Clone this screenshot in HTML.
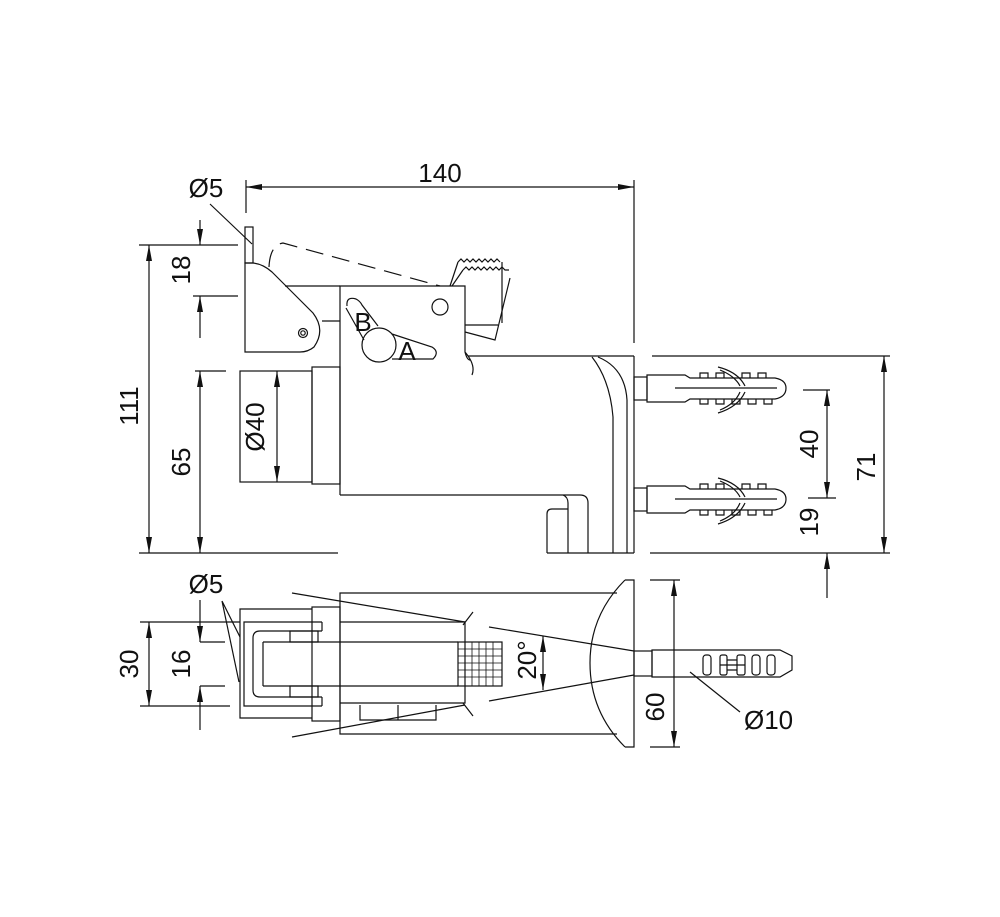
<!DOCTYPE html>
<html><head><meta charset="utf-8"><style>
html,body{margin:0;padding:0;background:#fff}
svg{display:block}
text{font-family:"Liberation Sans",sans-serif;font-size:26px;fill:#111}
</style></head><body>
<svg width="1000" height="917" viewBox="0 0 1000 917" xmlns="http://www.w3.org/2000/svg">
<defs>
<marker id="a" viewBox="0 0 16 6" refX="16" refY="3" markerWidth="16" markerHeight="6" orient="auto-start-reverse" markerUnits="userSpaceOnUse"><path d="M0,0 L16,3 L0,6 Z" fill="#111"/></marker>
</defs>
<g fill="none" stroke="#111" stroke-width="1.2">
<line x1="246" y1="187" x2="634" y2="187" marker-start="url(#a)" marker-end="url(#a)"/>
<line x1="246" y1="180" x2="246" y2="213"/>
<line x1="634" y1="180" x2="634" y2="343"/>
<line x1="210" y1="204" x2="252" y2="244"/>
<rect x="245" y="227" width="8" height="36"/>
<path d="M245,263 L253,263 Q263,264 272,272 L313,313 Q326,330 314,347 Q308,352 300,352 L245,352 Z"/>
<circle cx="303" cy="333" r="4.5"/><circle cx="303" cy="333" r="2.2"/>
<line x1="285" y1="286" x2="340" y2="286"/>
<line x1="322" y1="321" x2="340" y2="321"/>
<path d="M269,267 Q270,245 283,243 L440,286" stroke-dasharray="18,9"/>
<path d="M450,286 L458,262"/>
<path d="M458,262 l3,-3 l3,3 l3,-3 l3,3 l3,-3 l3,3 l3,-3 l3,3 l3,-3 l3,3 l3,-3 l3,3 l3,-3 l3,3"/>
<path d="M502,262 L502,323"/>
<path d="M463,270 L452,286"/>
<path d="M463,270 l3,-3 l3,3 l3,-3 l3,3 l3,-3 l3,3 l3,-3 l3,3 l3,-3 l3,3 l3,-3 l3,3 l3,-3 l3,3 l4,0"/>
<path d="M510,278 L495,340 L465,332"/>
<line x1="465" y1="325" x2="498" y2="325"/>
<path d="M340,495 L340,286 L465,286 L465,352 Q467,360 470,360 M465,352 Q476,365 472,375"/>
<path d="M468,356 L634,356"/>
<path d="M340,495 L580,495 Q588,495 588,503 L588,553"/>
<path d="M563,495 Q568,497 568,503 L568,553"/>
<path d="M547,553 L547,514 Q547,509 552,509 L568,509"/>
<line x1="547" y1="553" x2="634" y2="553"/>
<line x1="613" y1="417" x2="613" y2="553"/>
<line x1="627" y1="400" x2="627" y2="553"/>
<line x1="634" y1="356" x2="634" y2="553"/>
<path d="M592,357 Q610,380 613,417"/>
<path d="M598,357 Q625,368 627,400"/>
<circle cx="440" cy="307" r="8"/>
<path d="M347,306 Q346,296 356,299 Q360,301 362,305 L378,326"/>
<path d="M346,308 L364,340"/>
<circle cx="379" cy="345" r="17"/>
<path d="M392,334 L432,347 Q440,352 433,359 L392,359"/>
<rect x="240" y="371" width="72" height="111"/>
<rect x="312" y="367" width="28" height="117"/>
<line x1="277" y1="371" x2="277" y2="482" marker-start="url(#a)" marker-end="url(#a)"/>
<line x1="149" y1="245" x2="149" y2="553" marker-start="url(#a)" marker-end="url(#a)"/>
<line x1="139" y1="245" x2="238" y2="245"/>
<line x1="139" y1="553" x2="338" y2="553"/>
<line x1="200" y1="220" x2="200" y2="245" marker-end="url(#a)"/>
<line x1="200" y1="296" x2="200" y2="338" marker-start="url(#a)"/>
<line x1="193" y1="296" x2="238" y2="296"/>
<line x1="200" y1="371" x2="200" y2="553" marker-start="url(#a)" marker-end="url(#a)"/>
<line x1="195" y1="371" x2="226" y2="371"/>
<g id="anc">
<rect x="634" y="377" width="13" height="23"/>
<path d="M647,375 L685,375 L690,378 L775,378 Q786,380 786,388 Q786,397 775,399 L690,399 L685,402 L647,402 Z"/>
<line x1="675" y1="388" x2="777" y2="388"/>
<path d="M700,378 l0,-5 l8,0 l0,5 M716,378 l0,-5 l8,0 l0,5 M742,378 l0,-5 l8,0 l0,5 M758,378 l0,-5 l8,0 l0,5"/>
<path d="M700,399 l0,5 l8,0 l0,-5 M716,399 l0,5 l8,0 l0,-5 M732,399 l0,5 l8,0 l0,-5 M748,399 l0,5 l8,0 l0,-5 M764,399 l0,5 l8,0 l0,-5"/>
<path d="M718,367 Q738,372 745,386 M720,370 Q735,376 740,386"/>
<path d="M718,413 Q738,407 745,392 M720,410 Q735,404 740,392"/>
</g>
<use href="#anc" transform="translate(0,111)"/>
<line x1="652" y1="356" x2="890" y2="356"/>
<line x1="650" y1="553" x2="890" y2="553"/>
<line x1="884" y1="356" x2="884" y2="553" marker-start="url(#a)" marker-end="url(#a)"/>
<line x1="803" y1="390" x2="830" y2="390"/>
<line x1="827" y1="390" x2="827" y2="498" marker-start="url(#a)" marker-end="url(#a)"/>
<line x1="808" y1="498" x2="836" y2="498"/>
<line x1="827" y1="553" x2="827" y2="598" marker-start="url(#a)"/>
<path d="M617,593 L340,593 L340,734 L617,734"/>
<path d="M625,580 L634,580 L634,747 L625,747"/>
<path d="M625,580 Q590,615 590,663 Q590,712 625,747"/>
<path d="M340,622 L465,622 L465,703 L340,703"/>
<path d="M263,642 L458,642 M263,686 L458,686 M263,642 L263,686"/>
<rect x="458" y="642" width="44" height="44"/>
<path d="M458,649 H502 M458,656 H502 M458,663 H502 M458,670 H502 M458,677 H502 M465,642 V686 M472,642 V686 M479,642 V686 M486,642 V686 M493,642 V686" stroke-width="0.8"/>
<path d="M360,705 L360,720 L436,720 L436,705 M398,705 L398,720"/>
<line x1="292" y1="593" x2="465" y2="622"/>
<line x1="292" y1="737" x2="465" y2="705"/>
<path d="M463,625 L473,612 M463,703 L473,716"/>
<line x1="489" y1="627" x2="634" y2="651"/>
<line x1="489" y1="701" x2="634" y2="675"/>
<line x1="543" y1="636" x2="543" y2="690" marker-start="url(#a)" marker-end="url(#a)"/>
<rect x="312" y="607" width="28" height="114"/>
<path d="M312,609 L240,609 L240,718 L312,718"/>
<path d="M322,622 L244,622 L244,706 L322,706 M322,622 L322,631 M322,697 L322,706"/>
<path d="M322,631 L260,631 Q253,631 253,638 L253,690 Q253,697 260,697 L322,697"/>
<rect x="290" y="631" width="28" height="11"/>
<rect x="290" y="686" width="28" height="11"/>
<path d="M222,601 L240,637 M222,601 L239,682"/>
<rect x="634" y="651" width="18" height="25"/>
<path d="M652,650 L780,650 L792,656 L792,670 L780,677 L652,677 Z"/>
<rect x="703" y="655" width="8" height="20" rx="3"/>
<rect x="720" y="655" width="7" height="20" rx="2"/>
<rect x="737" y="655" width="8" height="20" rx="2"/>
<path d="M720,665 L745,665 M727,660 L737,660 M727,670 L737,670"/>
<rect x="752" y="655" width="8" height="20" rx="3"/>
<rect x="767" y="655" width="8" height="20" rx="3"/>
<line x1="690" y1="672" x2="740" y2="712"/>
<line x1="650" y1="580" x2="680" y2="580"/>
<line x1="650" y1="747" x2="680" y2="747"/>
<line x1="674" y1="580" x2="674" y2="747" marker-start="url(#a)" marker-end="url(#a)"/>
<line x1="140" y1="622" x2="240" y2="622"/>
<line x1="140" y1="706" x2="230" y2="706"/>
<line x1="149" y1="622" x2="149" y2="706" marker-start="url(#a)" marker-end="url(#a)"/>
<line x1="200" y1="642" x2="225" y2="642"/>
<line x1="200" y1="686" x2="225" y2="686"/>
<line x1="200" y1="600" x2="200" y2="642" marker-end="url(#a)"/>
<line x1="200" y1="686" x2="200" y2="730" marker-start="url(#a)"/>
</g>
<text x="440" y="182" text-anchor="middle">140</text>
<text x="206" y="197" text-anchor="middle">Ø5</text>
<text x="363" y="331" text-anchor="middle" font-size="23">B</text>
<text x="407" y="360" text-anchor="middle" font-size="23">A</text>
<text transform="translate(264,427) rotate(-90)" text-anchor="middle">Ø40</text>
<text transform="translate(138,406) rotate(-90)" text-anchor="middle">111</text>
<text transform="translate(190,270) rotate(-90)" text-anchor="middle">18</text>
<text transform="translate(190,462) rotate(-90)" text-anchor="middle">65</text>
<text transform="translate(818,444) rotate(-90)" text-anchor="middle">40</text>
<text transform="translate(818,522) rotate(-90)" text-anchor="middle">19</text>
<text transform="translate(875,467) rotate(-90)" text-anchor="middle">71</text>
<text x="206" y="593" text-anchor="middle">Ø5</text>
<text transform="translate(138,664) rotate(-90)" text-anchor="middle">30</text>
<text transform="translate(190,664) rotate(-90)" text-anchor="middle">16</text>
<text transform="translate(536,660) rotate(-90)" text-anchor="middle">20°</text>
<text transform="translate(664,707) rotate(-90)" text-anchor="middle">60</text>
<text x="744" y="729">Ø10</text>
</svg>
</body></html>
